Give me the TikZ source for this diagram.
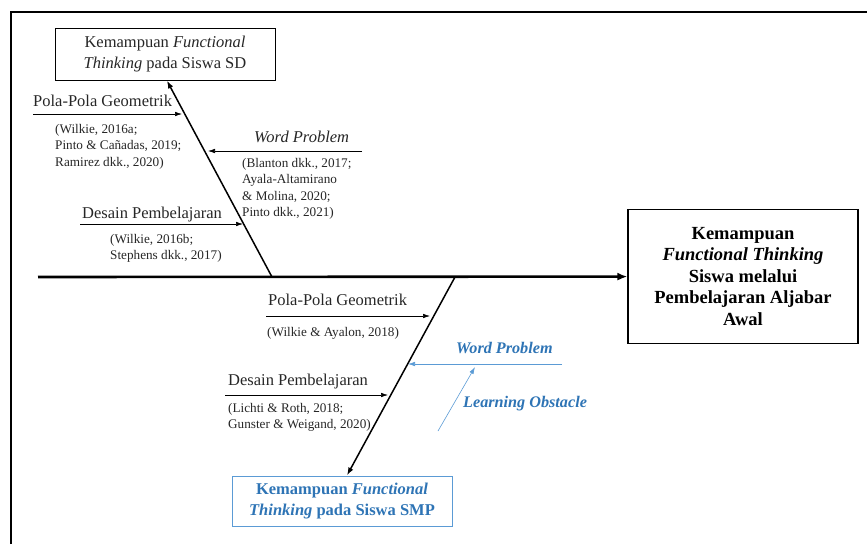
\documentclass[tikz,border=0pt]{standalone}
\usepackage{fontspec}
\setmainfont{Liberation Serif}
\usetikzlibrary{arrows.meta}
\definecolor{wordblue}{HTML}{2E74B5}
\definecolor{lineblue}{HTML}{5B9BD5}
\begin{document}
\begin{tikzpicture}[
    x=1pt, y=-1pt,
    effect/.style={draw, line width=1pt, align=center, inner sep=0pt,
                   text=black!85, font=\fontsize{16.5}{21}\selectfont},
    head/.style={draw, line width=1.2pt, align=center, inner sep=0pt,
                 minimum width=230pt, minimum height=134pt,
                 font=\fontsize{18.5}{21.5}\selectfont\bfseries},
    spine/.style={-{Latex[length=10pt,width=8pt]}, line width=2.6pt},
    bone/.style={-{Latex[length=8pt,width=5.5pt]}, line width=1.5pt},
    cause/.style={-{Latex[length=7pt,width=4.5pt]}, line width=0.6pt},
    factor/.style={anchor=base west, inner sep=0pt, text=black!85,
                   font=\fontsize{16.5}{20}\selectfont},
    ref/.style={anchor=north west, inner sep=0pt, align=left, text=black!85,
                font=\fontsize{13.2}{16.5}\selectfont},
    blue label/.style={factor, text=wordblue, font=\fontsize{16.2}{20}\selectfont\bfseries\itshape},
]
\useasboundingbox (0,0) rectangle (867,544);

% outer frame
\draw[line width=2pt] (11,544) -- (11,12) -- (867,12);

% effect boxes
\node[effect, minimum width=220pt, minimum height=52pt] (sd) at (165,54)
    {Kemampuan \textit{Functional}\\\textit{Thinking} pada Siswa SD};
\node[effect, draw=lineblue, text=wordblue, minimum width=220pt, minimum height=50pt,
      font=\fontsize{16.5}{21}\selectfont\bfseries] (smp) at (342,501)
    {Kemampuan \textit{Functional}\\\textit{Thinking} pada Siswa SMP};
\node[head] (outcome) at (743,276.5)
    {Kemampuan\\\textit{Functional Thinking}\\Siswa melalui\\Pembelajaran Aljabar\\Awal};

% spine and the two main bones
\coordinate (tail) at (38,277);
\coordinate (j1) at (272,277);
\coordinate (j2) at (455,277);
\draw[spine] (tail) -- (outcome);
\draw[bone] (j1) -- (sd.-86);
\draw[bone] (j2) -- (smp.79);

% upper bone (SD)
\coordinate (pg1a) at (33,114);   \coordinate (pg1b) at (182,114);
\coordinate (wp1a) at (362,151);  \coordinate (wp1b) at (208,151);
\coordinate (dp1a) at (80,224);   \coordinate (dp1b) at (243,224);
\draw[cause] (pg1a) -- (pg1b);
\draw[cause] (wp1a) -- (wp1b);
\draw[cause] (dp1a) -- (dp1b);

\node[factor] (pg1) at (33,106) {Pola-Pola Geometrik};
\node[ref] (pg1ref) at (55,124) {(Wilkie, 2016a;\\Pinto \& Cañadas, 2019;\\Ramirez dkk., 2020)};
\node[factor] (wp1) at (254,142) {\textit{Word Problem}};
\node[ref] (wp1ref) at (242,158) {(Blanton dkk., 2017;\\Ayala-Altamirano\\\& Molina, 2020;\\Pinto dkk., 2021)};
\node[factor] (dp1) at (82,218) {Desain Pembelajaran};
\node[ref] (dp1ref) at (110,234) {(Wilkie, 2016b;\\Stephens dkk., 2017)};

% lower bone (SMP)
\coordinate (pg2a) at (266,316);  \coordinate (pg2b) at (430,316);
\coordinate (wp2a) at (562,364);  \coordinate (wp2b) at (408,364);
\coordinate (dp2a) at (225,395);  \coordinate (dp2b) at (388,395);
\coordinate (loa) at (438,431);   \coordinate (lob) at (475,367);
\draw[cause] (pg2a) -- (pg2b);
\draw[cause, draw=lineblue] (wp2a) -- (wp2b);
\draw[cause] (dp2a) -- (dp2b);
\draw[cause, draw=lineblue] (loa) -- (lob);

\node[factor] (pg2) at (268,305) {Pola-Pola Geometrik};
\node[ref] (pg2ref) at (267,327) {(Wilkie \& Ayalon, 2018)};
\node[blue label] (wp2) at (456,353) {Word Problem};
\node[factor] (dp2) at (228,385) {Desain Pembelajaran};
\node[ref] (dp2ref) at (228,403) {(Lichti \& Roth, 2018;\\Gunster \& Weigand, 2020)};
\node[blue label] (lo) at (463,407) {Learning Obstacle};

\end{tikzpicture}
\end{document}
